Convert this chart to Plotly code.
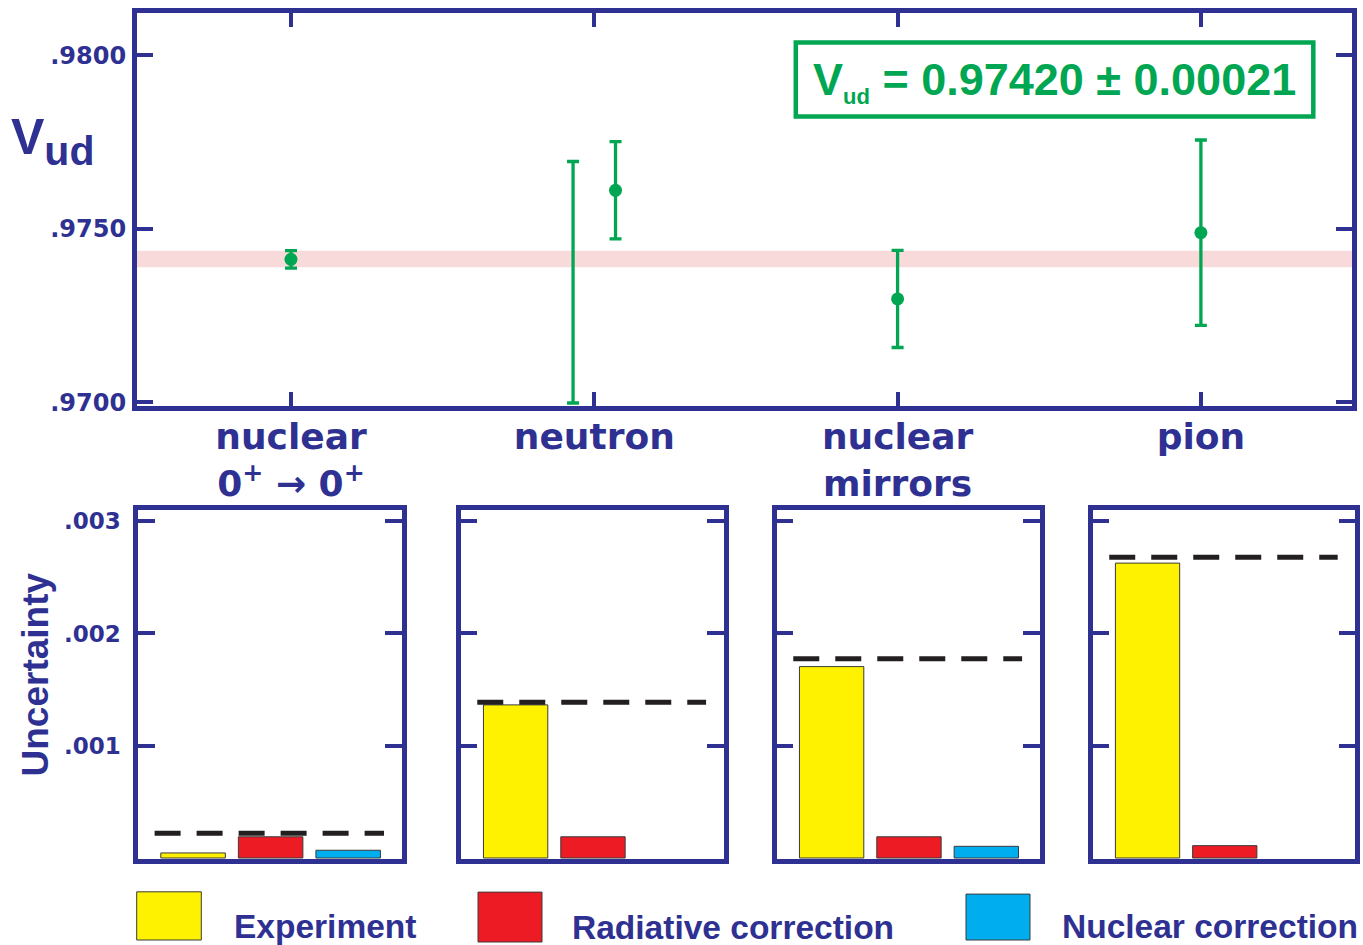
import plotly.graph_objects as go

# ---------------- data ----------------
categories = ['nuclear<br>0<sup>+</sup> → 0<sup>+</sup>', 'neutron', 'nuclear<br>mirrors', 'pion']
category_pos = [0, 1, 2, 3]

vud_ytick_vals = [0.9700, 0.9750, 0.9800]
vud_ytick_text = ['.9700', '.9750', '.9800']

# points with central value marker
vud_x = [0.0, 1.07, 2.0, 3.0]
vud_val = [0.97412, 0.97611, 0.97298, 0.97489]
vud_err = [0.00025, 0.00140, 0.00140, 0.00267]

# neutron range drawn without a central marker
nrange_x = [0.93]
nrange_val = [0.97346]
nrange_err = [0.00348]

# world average band
vud_avg = 0.97413
vud_avg_err = 0.00024
avg_text = 'V<sub><span style="font-size:22px">ud</span></sub> = 0.97420 ± 0.00021'

# uncertainty budget per category
unc_tick_vals = [0.001, 0.002, 0.003]
unc_tick_text = ['.001', '.002', '.003']
exp_unc = [0.000045, 0.001364, 0.001705, 0.002627]
rad_unc = [0.000189, 0.000189, 0.000189, 0.000110]
nuc_unc = [0.000069, None, 0.000104, None]
total_unc = [0.000221, 0.001388, 0.001776, 0.002680]
bar_labels = ['Experiment', 'Radiative correction', 'Nuclear correction']

# ---------------- style ----------------
W, H = 1363, 945          # target picture size (positions below are given in it)
FIG_H = 956               # figure height
BLUE = '#2e3192'
GREEN = '#00a651'
PINK = '#f9dada'
YELLOW = '#fff200'
RED = '#ed1c24'
CYAN = '#00aeef'
DARK = '#231f20'
bar_colors = [YELLOW, RED, CYAN]
WIDE = 'DejaVu Sans'
ARIAL = 'Liberation Sans, Arial'


def px(x):
    return x / W


def py(y):
    return 1 - y / H


fig = go.Figure()

# top panel traces
fig.add_trace(go.Scatter(
    x=nrange_x, y=nrange_val, mode='markers',
    marker=dict(size=0.1, color=GREEN, opacity=0),
    error_y=dict(type='data', array=nrange_err, color=GREEN, thickness=3.3, width=6),
    xaxis='x', yaxis='y', showlegend=False, hoverinfo='skip'))
fig.add_trace(go.Scatter(
    x=vud_x, y=vud_val, mode='markers',
    marker=dict(size=13, color=GREEN),
    error_y=dict(type='data', array=vud_err, color=GREEN, thickness=3.3, width=6),
    xaxis='x', yaxis='y', showlegend=False))

# bottom panels
bottom_dom = [(138.0, 401.7), (460.7, 723.7), (776.7, 1039.7), (1092.7, 1355.3)]
ydom_bot = [py(859.3), py(509.5)]
for k in range(4):
    n = k + 2
    vals = [exp_unc[k], rad_unc[k], nuc_unc[k]]
    fig.add_trace(go.Bar(
        x=[0, 1, 2], y=vals, width=0.832,
        marker=dict(color=bar_colors, line=dict(width=1, color='#3a3a3a')),
        xaxis=f'x{n}', yaxis=f'y{n}', showlegend=False))

axis_common = dict(showline=True, linewidth=4.5, linecolor=BLUE, showgrid=False,
                   zeroline=False, tickcolor=BLUE, tickwidth=4)

layout = dict(
    width=W, height=FIG_H, margin=dict(l=0, r=0, t=0, b=0),
    paper_bgcolor='white', plot_bgcolor='white', showlegend=False,
    xaxis=dict(domain=[px(136.7), px(1352.3)], range=[-0.5087, 3.4992], anchor='y',
               tickvals=category_pos, ticktext=categories, ticks='inside', ticklen=14,
               mirror='ticks', ticklabelstandoff=-5,
               tickfont=dict(family=WIDE, size=36, color=BLUE, weight='bold'), **axis_common),
    yaxis=dict(domain=[py(405), py(11)], range=[0.96989, 0.98122], anchor='x',
               tickvals=vud_ytick_vals, ticktext=vud_ytick_text, ticks='inside', ticklen=17,
               mirror='ticks', ticklabelstandoff=1,
               tickfont=dict(family=WIDE, size=24, color=BLUE, weight='bold'), **axis_common),
)
for k in range(4):
    n = k + 2
    x0, x1 = bottom_dom[k]
    layout[f'xaxis{n}'] = dict(domain=[px(x0), px(x1)], range=[-0.710, 2.690], anchor=f'y{n}',
                               ticks='', showticklabels=False, mirror=True, **axis_common)
    layout[f'yaxis{n}'] = dict(domain=ydom_bot, range=[-0.0000132, 0.0030963], anchor=f'x{n}',
                               tickvals=unc_tick_vals, ticktext=unc_tick_text, ticks='inside',
                               ticklen=17, mirror='ticks', showticklabels=(k == 0),
                               ticklabelstandoff=8,
                               tickfont=dict(family=WIDE, size=23, color=BLUE, weight='bold'),
                               **axis_common)
fig.update_layout(**layout)

shapes = []
# average band
shapes.append(dict(type='rect', xref='x domain', yref='y', x0=0, x1=1,
                   y0=vud_avg - vud_avg_err, y1=vud_avg + vud_avg_err,
                   fillcolor=PINK, line=dict(width=0), layer='below'))
# green result box
shapes.append(dict(type='rect', xref='paper', yref='paper', x0=px(795.8), x1=px(1313.3),
                   y0=py(114.7), y1=py(40.5), line=dict(color=GREEN, width=4.5),
                   fillcolor='white', layer='below'))
# dashed total lines
for k in range(4):
    n = k + 2
    shapes.append(dict(type='line', xref=f'x{n} domain', yref=f'y{n}', x0=0.063, x1=0.933,
                       y0=total_unc[k], y1=total_unc[k],
                       line=dict(color=DARK, width=5, dash='26px,16px')))
# legend swatches
sw = [(136.7, 891.7, 201.3, 940.0), (478.0, 892.0, 542.0, 942.0), (966.0, 894.0, 1030.0, 940.0)]
for (a, b, c, d), col in zip(sw, bar_colors):
    shapes.append(dict(type='rect', xref='paper', yref='paper', x0=px(a), x1=px(c),
                       y0=py(d), y1=py(b), fillcolor=col, line=dict(color='#3a3a3a', width=1)))
fig.update_layout(shapes=shapes)

ann = []
ann.append(dict(text='V<sub><span style="font-size:41px">ud</span></sub>', x=px(52.5), y=py(140),
                xref='paper', yref='paper', xanchor='center', yanchor='middle', showarrow=False,
                font=dict(family=ARIAL, size=50, color=BLUE, weight='bold')))
ann.append(dict(text=avg_text, x=px(1054.5), y=py(80), xref='paper', yref='paper',
                xanchor='center', yanchor='middle', showarrow=False,
                font=dict(family=ARIAL, size=45, color=GREEN, weight='bold')))
ann.append(dict(text='Uncertainty', x=px(35.5), y=py(674.4), xref='paper', yref='paper',
                xanchor='center', yanchor='middle', showarrow=False, textangle=-90,
                font=dict(family=ARIAL, size=37, color=BLUE, weight='bold')))
leg_pos = [(232.3, 926.5), (570.0, 927.0), (1060.0, 926.5)]
for (lx, ly), lab in zip(leg_pos, bar_labels):
    ann.append(dict(text=lab, x=px(lx), y=py(ly), xref='paper', yref='paper',
                    xanchor='left', yanchor='middle', showarrow=False,
                    font=dict(family=ARIAL, size=33.5, color=BLUE, weight='bold')))
fig.update_layout(annotations=ann)

page_fix = (
    "var s=[document.documentElement.style, document.body.style];"
    "s.forEach(function(t){t.margin='0';t.padding='0';});"
)
fig.write_html('out.html', config={'displayModeBar': False}, post_script=page_fix)
